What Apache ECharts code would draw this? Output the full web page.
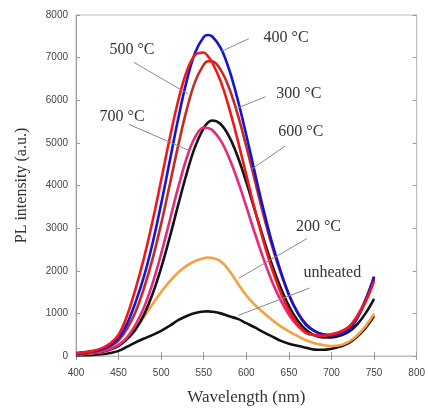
<!DOCTYPE html>
<html>
<head>
<meta charset="utf-8">
<script src="https://cdn.jsdelivr.net/npm/echarts@6/dist/echarts.min.js"></script>
<style>html,body{margin:0;padding:0;background:#fff}#c{width:428px;height:411px}</style>
</head>
<body>
<div id="c"></div>
<script>
const wavelengths = [400,410,420,430,440,450,460,470,480,490,500,510,520,530,540,550,555,560,570,580,590,600,610,620,630,640,650,660,670,680,690,700,710,720,730,740,750];
const s400 = [65,85,110,160,250,420,760,1265,1878,2652,3569,4567,5567,6455,7123,7484,7530,7495,7223,6709,6004,5178,4304,3448,2670,2010,1438,1020,733,589,509,484,509,609,875,1312,1856];
const s500 = [70,90,120,180,290,500,950,1580,2315,3172,4128,5102,5989,6674,7064,7120,7030,6885,6436,5804,5052,4243,3438,2700,2051,1509,1070,755,552,492,478,505,559,672,917,1279,1754];
const s300 = [60,75,100,140,220,360,640,1040,1601,2285,3101,4011,4935,5780,6443,6837,6915,6912,6707,6275,5658,4916,4117,3321,2593,1966,1438,1033,753,582,503,488,521,631,888,1274,1807];
const s600 = [50,60,75,100,150,240,395,620,976,1459,2067,2779,3544,4287,4918,5352,5480,5525,5437,5141,4670,4077,3419,2765,2150,1617,1173,838,614,485,438,436,476,566,739,1000,1340];
const s700 = [55,65,80,105,165,260,440,735,1148,1710,2400,3174,3955,4645,5139,5358,5350,5301,5052,4640,4107,3503,2880,2290,1755,1321,968,711,539,489,479,513,573,679,936,1328,1870];
const s200 = [40,50,65,90,140,240,400,640,920,1220,1500,1750,1960,2120,2230,2295,2310,2300,2220,2000,1700,1420,1200,1020,850,700,580,470,370,300,255,235,250,330,480,700,990];
const sUnheated = [20,20,25,40,70,120,220,320,410,495,590,710,840,940,1010,1045,1048,1040,1000,930,870,770,670,560,460,360,290,240,195,150,145,170,220,300,450,660,940];
const xTicks = [400,450,500,550,600,650,700,750,800];
const yTicks = [0,1000,2000,3000,4000,5000,6000,7000,8000];

const seriesNames = ['unheated','200 °C','600 °C','700 °C','300 °C','400 °C','500 °C'];
const seriesData = [sUnheated, s200, s600, s700, s300, s400, s500];
const seriesColors = ['#111111','#f5a043','#141414','#e8287a','#c42a22','#1414d4','#f01818'];

const labelTexts = ['500 °C','700 °C','400 °C','300 °C','600 °C','200 °C','unheated'];
const labelAt = [[465.7,7191],[454.2,5618],[646.7,7468],[661.7,6150],[664,5271],[684.7,3029],[700.9,1942]];
const leaderFrom = [[468,6890],[462.2,5433],[602.9,7445],[622.5,6081],[645.5,4925],[670.9,2751],[674.3,1595]];
const leaderTo = [[531.4,6150],[531.4,4832],[570.6,7144],[587.9,5803],[605.2,4370],[591.3,1826],[590.2,948]];

const chart = echarts.init(document.getElementById('c'), null, {renderer:'canvas'});
const axisCol = '#9a9a9a';
const tickLabel = {color:'#444', fontSize:10, fontFamily:'Liberation Sans, Arial, sans-serif', formatter:(v)=>String(v)};
const serif = 'Liberation Serif, Times New Roman, serif';

const option = {
  animation:false,
  backgroundColor:'#fff',
  grid:{left:76, top:15, right:5, bottom:50, show:true, borderColor:'#bdbdbd', borderWidth:1},
  xAxis:[
    {type:'value', min:xTicks[0], max:xTicks[xTicks.length-1], interval:50, position:'bottom',
     name:'Wavelength (nm)', nameLocation:'middle', nameGap:33,
     nameTextStyle:{fontFamily:serif, fontSize:17, color:'#333'},
     axisLine:{lineStyle:{color:axisCol}}, axisTick:{inside:true, length:4, lineStyle:{color:axisCol}},
     axisLabel:Object.assign({margin:12}, tickLabel), splitLine:{show:false}},
    {type:'value', min:xTicks[0], max:xTicks[xTicks.length-1], interval:50, position:'top',
     axisLine:{show:true, lineStyle:{color:'#bdbdbd'}}, axisTick:{inside:true, length:4, lineStyle:{color:axisCol}},
     axisLabel:{show:false}, splitLine:{show:false}}
  ],
  yAxis:[
    {type:'value', min:yTicks[0], max:yTicks[yTicks.length-1], interval:1000, position:'left',
     name:'PL intensity (a.u.)', nameLocation:'middle', nameGap:46,
     nameTextStyle:{fontFamily:serif, fontSize:16, color:'#333'},
     axisLine:{show:true, lineStyle:{color:axisCol}}, axisTick:{show:true, inside:true, length:4, lineStyle:{color:axisCol}},
     axisLabel:Object.assign({margin:8}, tickLabel), splitLine:{show:false}},
    {type:'value', min:yTicks[0], max:yTicks[yTicks.length-1], interval:1000, position:'right',
     axisLine:{show:true, lineStyle:{color:'#bdbdbd'}}, axisTick:{show:true, inside:true, length:4, lineStyle:{color:axisCol}},
     axisLabel:{show:false}, splitLine:{show:false}}
  ],
  series: seriesNames.map((n,i)=>({
    name:n, type:'line', smooth:0.4, symbol:'none',
    data: wavelengths.map((w,j)=>[w, seriesData[i][j]]),
    lineStyle:{color:seriesColors[i], width:2.6},
    z: 2+i
  }))
};
chart.setOption(option);

const g = [];
for (let i=0;i<labelTexts.length;i++){
  const a = chart.convertToPixel({gridIndex:0}, leaderFrom[i]);
  const b = chart.convertToPixel({gridIndex:0}, leaderTo[i]);
  const t = chart.convertToPixel({gridIndex:0}, labelAt[i]);
  g.push({type:'line', shape:{x1:a[0],y1:a[1],x2:b[0],y2:b[1]}, style:{stroke:'#8a8a8a', lineWidth:1}, z:100});
  g.push({type:'text', x:t[0], y:t[1], style:{text:labelTexts[i], fill:'#333', font:'16px '+serif, align:'center', verticalAlign:'middle'}, z:101});
}
chart.setOption({graphic:g});
</script>
</body>
</html>
